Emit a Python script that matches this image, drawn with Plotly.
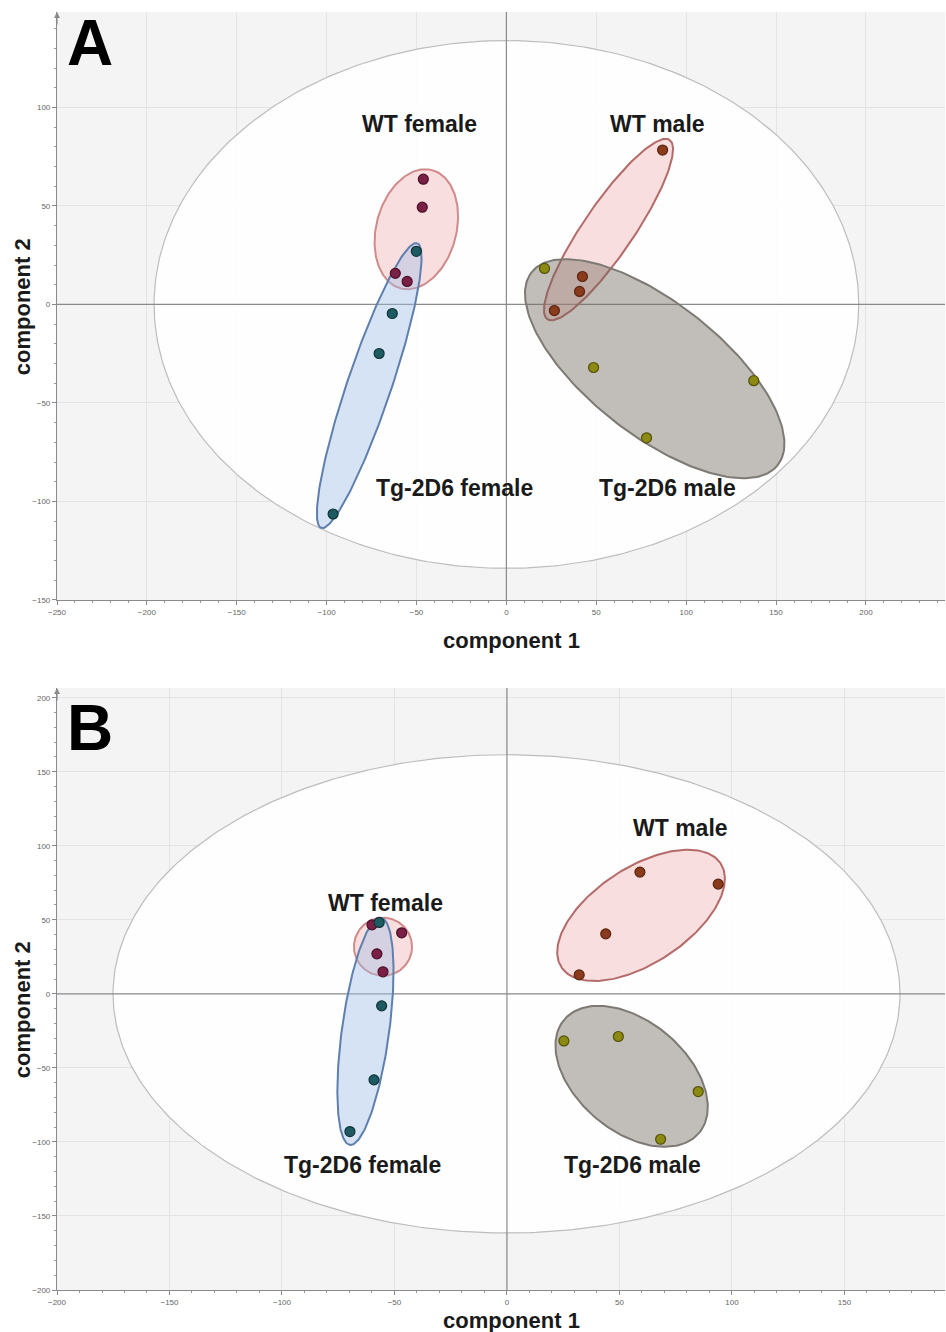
import numpy as np
import plotly.graph_objects as go

# ---------------- DATA ----------------
groups = ["WT female", "Tg-2D6 female", "WT male", "Tg-2D6 male"]

# Panel A scores (component 1, component 2)
a_wtf_x = [-46.2, -46.8, -61.8, -55.2]
a_wtf_y = [63.6, 49.4, 15.8, 11.7]
a_tgf_x = [-50.1, -63.5, -70.8, -96.4]
a_tgf_y = [27.0, -4.6, -24.9, -106.4]
a_wtm_x = [86.9, 42.3, 40.7, 26.7]
a_wtm_y = [78.4, 14.2, 6.6, -3.1]
a_tgm_x = [21.2, 48.5, 137.6, 78.0]
a_tgm_y = [18.3, -32.0, -38.7, -67.7]

# Panel B scores
b_wtf_x = [-60.0, -57.8, -55.1, -46.8]
b_wtf_y = [46.6, 27.0, 14.9, 41.2]
b_tgf_x = [-56.8, -55.7, -59.1, -69.8]
b_tgf_y = [48.2, -8.1, -58.1, -93.0]
b_wtm_x = [59.1, 93.9, 43.9, 32.1]
b_wtm_y = [82.2, 74.1, 40.5, 12.8]
b_tgm_x = [25.3, 49.5, 85.0, 68.3]
b_tgm_y = [-31.8, -28.8, -66.0, -98.2]

# Ellipses: center (cx, cy), half-vector u, half-vector v (data units)
a_ell_T2 = [0.0, 0.0, 196.0, 0.0, 0.0, 134.0]
a_ell_wtf = [-50.1, 38.2, 8.8, 30.0, 21.5, -5.3]
a_ell_tgf = [-76.3, -41.2, 26.7, 72.3, 11.6, -3.6]
a_ell_wtm = [56.8, 38.0, 34.0, 45.5, 11.5, -7.2]
a_ell_tgm = [82.5, -32.6, 68.5, -48.9, 22.7, 26.5]

b_ell_T2 = [-0.2, 0.0, 174.9, 0.0, 0.0, 161.5]
b_ell_wtf = [-55.1, 31.8, 12.9, 0.0, 0.0, 19.6]
b_ell_tgf = [-62.9, -25.3, 6.9, 76.7, 10.4, -2.2]
b_ell_wtm = [59.6, 53.0, 35.4, 35.0, 11.6, -27.2]
b_ell_tgm = [55.4, -55.7, 30.0, -38.2, -15.7, -28.4]

# Axis ranges
a_xrange = [-250, 244]
a_yrange = [-150, 148.5]
b_xrange = [-200, 194.7]
b_yrange = [-200, 206.5]

# Label positions (data units)
a_labels = [("WT female", -48.5, 91.6), ("WT male", 84.1, 91.6),
            ("Tg-2D6 female", -29.0, -93.1), ("Tg-2D6 male", 89.7, -93.1)]
b_labels = [("WT male", 77.3, 112.2), ("WT female", -54.2, 61.5),
            ("Tg-2D6 female", -64.4, -115.5), ("Tg-2D6 male", 55.6, -115.5)]

# ---------------- STYLE ----------------
marker_col = {"WT female": "#7a1f45", "Tg-2D6 female": "#1d5a62",
              "WT male": "#8a3b1c", "Tg-2D6 male": "#8c8a12"}
marker_line = {"WT female": "#4a0f28", "Tg-2D6 female": "#0f3438",
               "WT male": "#5a2410", "Tg-2D6 male": "#55520a"}
ell_fill = {"WT female": "rgba(240,170,170,0.38)", "Tg-2D6 female": "rgba(160,190,230,0.42)",
            "WT male": "rgba(240,170,170,0.38)", "Tg-2D6 male": "rgba(110,100,88,0.42)"}
ell_line = {"WT female": "#d08a8a", "Tg-2D6 female": "#5f7fae",
            "WT male": "#b56a6a", "Tg-2D6 male": "#7d7a74"}

FONT = "Liberation Sans, Arial, sans-serif"

fig = go.Figure()


def ellipse(p, n=200):
    t = np.linspace(0, 2 * np.pi, n)
    cx, cy, ux, uy, vx, vy = p
    return cx + ux * np.cos(t) + vx * np.sin(t), cy + uy * np.cos(t) + vy * np.sin(t)


def add_panel(xa, ya, xr, yr, T2, ells, pts):
    ex, ey = ellipse(T2, 400)
    fig.add_trace(go.Scatter(x=ex, y=ey, mode="lines", fill="toself",
                             fillcolor="rgba(255,255,255,0.88)",
                             line=dict(color="#bdbdbd", width=1.2),
                             hoverinfo="skip", showlegend=False, xaxis=xa, yaxis=ya))
    # zero lines
    fig.add_trace(go.Scatter(x=xr, y=[0, 0], mode="lines", line=dict(color="#8a8a8a", width=1.2),
                             hoverinfo="skip", showlegend=False, xaxis=xa, yaxis=ya))
    fig.add_trace(go.Scatter(x=[0, 0], y=yr, mode="lines", line=dict(color="#8a8a8a", width=1.2),
                             hoverinfo="skip", showlegend=False, xaxis=xa, yaxis=ya))
    for g, p in zip(groups, ells):
        ex, ey = ellipse(p)
        fig.add_trace(go.Scatter(x=ex, y=ey, mode="lines", fill="toself",
                                 fillcolor=ell_fill[g], line=dict(color=ell_line[g], width=2),
                                 hoverinfo="skip", showlegend=False, xaxis=xa, yaxis=ya))
    for g, (px, py) in zip(groups, pts):
        fig.add_trace(go.Scatter(x=px, y=py, mode="markers", name=g,
                                 marker=dict(size=10, color=marker_col[g],
                                             line=dict(color=marker_line[g], width=1.2)),
                                 showlegend=False, xaxis=xa, yaxis=ya))


add_panel("x", "y", a_xrange, a_yrange, a_ell_T2,
          [a_ell_wtf, a_ell_tgf, a_ell_wtm, a_ell_tgm],
          [(a_wtf_x, a_wtf_y), (a_tgf_x, a_tgf_y), (a_wtm_x, a_wtm_y), (a_tgm_x, a_tgm_y)])
add_panel("x2", "y2", b_xrange, b_yrange, b_ell_T2,
          [b_ell_wtf, b_ell_tgf, b_ell_wtm, b_ell_tgm],
          [(b_wtf_x, b_wtf_y), (b_tgf_x, b_tgf_y), (b_wtm_x, b_wtm_y), (b_tgm_x, b_tgm_y)])

axis_common = dict(showgrid=True, gridcolor="#e4e4e4", gridwidth=1, zeroline=False,
                   showline=True, linecolor="#8a8a8a", linewidth=1.2,
                   ticks="outside", ticklen=4, tickcolor="#8a8a8a", dtick=50,
                   tickfont=dict(family=FONT, size=8, color="#666666"),
                   minor=dict(dtick=10, ticks="outside", ticklen=2, tickcolor="#9a9a9a", showgrid=False))

fig.update_layout(
    width=946, height=1332,
    margin=dict(l=57, r=1, t=12, b=42),
    paper_bgcolor="white", plot_bgcolor="#f4f4f4",
    xaxis=dict(domain=[0, 1], range=a_xrange, anchor="y", **axis_common),
    yaxis=dict(domain=[0.54, 1], range=a_yrange, anchor="x", **axis_common),
    xaxis2=dict(domain=[0, 1], range=b_xrange, anchor="y2", **axis_common),
    yaxis2=dict(domain=[0, 0.471], range=b_yrange, anchor="x2", **axis_common),
)

ann = []
for (txt, x, y) in a_labels:
    ann.append(dict(text="<b>%s</b>" % txt, x=x, y=y, xref="x", yref="y", showarrow=False,
                    xanchor="center", yanchor="middle",
                    font=dict(family=FONT, size=23, color="#1a1a1a")))
for (txt, x, y) in b_labels:
    ann.append(dict(text="<b>%s</b>" % txt, x=x, y=y, xref="x2", yref="y2", showarrow=False,
                    xanchor="center", yanchor="middle",
                    font=dict(family=FONT, size=23, color="#1a1a1a")))

# panel letters
ann.append(dict(text="<b>A</b>", x=0.037, y=0.9757, xref="paper", yref="paper", showarrow=False,
                xanchor="center", yanchor="middle",
                font=dict(family=FONT, size=64, color="black")))
ann.append(dict(text="<b>B</b>", x=0.037, y=0.4397, xref="paper", yref="paper", showarrow=False,
                xanchor="center", yanchor="middle",
                font=dict(family=FONT, size=64, color="black")))

# axis titles
for yc in (0.5086, -0.0235):
    ann.append(dict(text="<b>component 1</b>", x=0.512, y=yc, xref="paper", yref="paper",
                    xanchor="center", yanchor="middle",
                    showarrow=False, font=dict(family=FONT, size=22, color="#1a1a1a")))
for yc in (0.769, 0.219):
    ann.append(dict(text="<b>component 2</b>", x=-0.0394, y=yc, xref="paper", yref="paper",
                    xanchor="center", yanchor="middle",
                    textangle=-90, showarrow=False, font=dict(family=FONT, size=22, color="#1a1a1a")))

# arrow heads at top of y axes
ann.append(dict(text="", x=a_xrange[0], y=a_yrange[1], xref="x", yref="y", ax=0, ay=14,
                showarrow=True, arrowhead=2, arrowsize=1, arrowwidth=1.2, arrowcolor="#8a8a8a"))
ann.append(dict(text="", x=b_xrange[0], y=b_yrange[1], xref="x2", yref="y2", ax=0, ay=14,
                showarrow=True, arrowhead=2, arrowsize=1, arrowwidth=1.2, arrowcolor="#8a8a8a"))

fig.update_layout(annotations=ann)

fig.write_html("out.html", config={"displayModeBar": False})

# remove default browser body margin so the figure sits at the page origin
with open("out.html", "r", encoding="utf-8") as f:
    html = f.read()
html = html.replace("<head>", "<head><style>html,body{margin:0;padding:0;overflow:hidden;}</style>", 1)
with open("out.html", "w", encoding="utf-8") as f:
    f.write(html)
